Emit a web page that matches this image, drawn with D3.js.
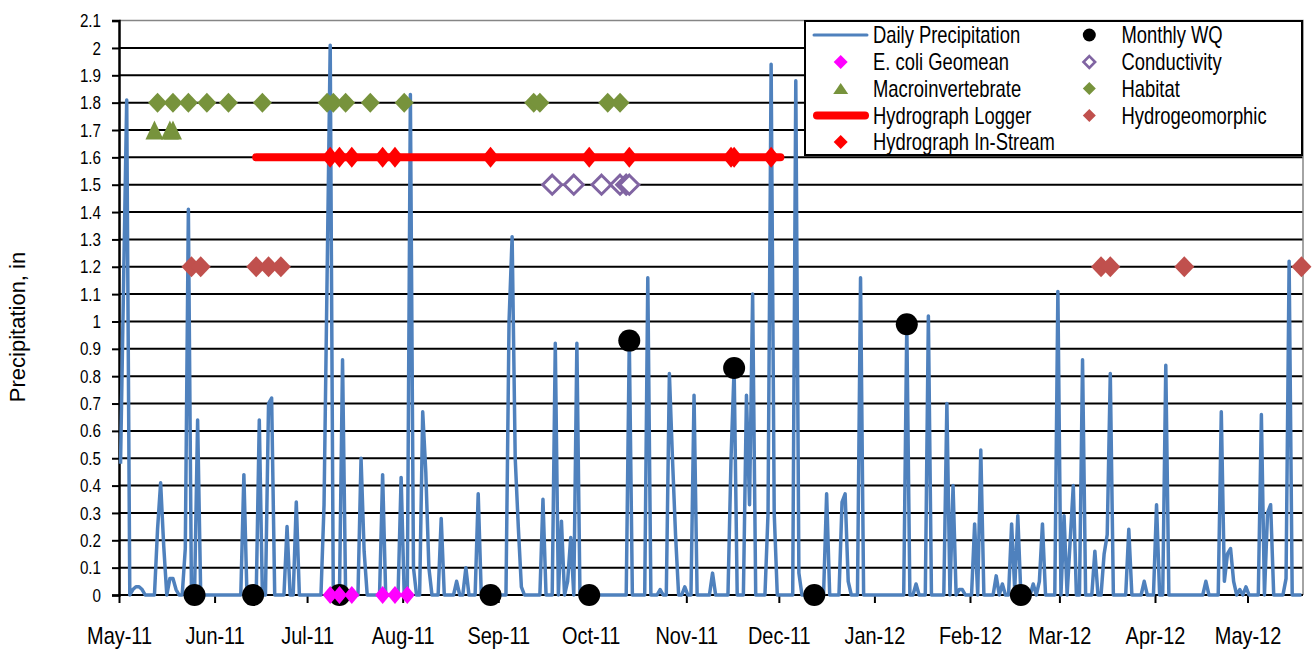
<!DOCTYPE html>
<html>
<head>
<meta charset="utf-8">
<script src="https://cdn.jsdelivr.net/npm/d3@7"></script>
<style>
  html, body { margin: 0; padding: 0; background: #fff; }
  svg { display: block; }
  text { font-family: "Liberation Sans", Arial, sans-serif; fill: #000; }
</style>
</head>
<body>
<svg id="chart" width="1313" height="650"></svg>
<script>
// ---------------- DATA ----------------
const precipStart = "2011-05-01";
// daily precipitation (in), one value per day starting May 1, 2011
const dailyPrecip = [
  0.48, 1.15, 1.81, 0, 0.02, 0.03, 0.03, 0.02, 0, 0,
  0, 0, 0.24, 0.41, 0.18, 0, 0.06, 0.06, 0.02, 0,
  0, 0.17, 1.41, 0, 0, 0.64, 0, 0, 0, 0,
  0, 0, 0, 0, 0, 0, 0, 0, 0, 0,
  0.44, 0, 0, 0, 0, 0.64, 0, 0, 0.70, 0.72,
  0, 0, 0, 0, 0.25, 0, 0, 0.34, 0, 0,
  0, 0, 0, 0, 0, 0, 0.33, 1.17, 2.01, 0,
  0, 0, 0.86, 0, 0, 0, 0, 0, 0.50, 0.16,
  0, 0, 0, 0, 0, 0.44, 0, 0, 0, 0,
  0, 0.43, 0, 0, 1.83, 0.10, 0, 0, 0.67, 0.45,
  0.10, 0, 0, 0, 0.28, 0, 0, 0, 0, 0.05,
  0, 0, 0.10, 0, 0, 0, 0.37, 0, 0, 0,
  0, 0, 0, 0, 0, 0, 1.00, 1.31, 0.50, 0.25,
  0.03, 0, 0, 0, 0, 0, 0, 0.35, 0, 0,
  0, 0.92, 0, 0.27, 0, 0.05, 0.21, 0, 0.92, 0,
  0, 0, 0, 0, 0, 0, 0, 0, 0, 0,
  0, 0, 0, 0, 0, 0.93, 0, 0, 0, 0,
  0, 1.16, 0, 0, 0, 0.02, 0, 0, 0.81, 0.50,
  0.22, 0, 0, 0.03, 0, 0, 0.73, 0, 0, 0,
  0, 0, 0.08, 0, 0, 0, 0, 0, 0.50, 0.83,
  0, 0, 0, 0.73, 0.33, 1.10, 0, 0, 0, 0,
  0.30, 1.94, 0.30, 0, 0, 0, 0, 0, 0, 1.88,
  0.08, 0, 0, 0, 0, 0, 0, 0, 0, 0.37,
  0, 0, 0, 0, 0.34, 0.37, 0.05, 0, 0, 0,
  1.16, 0, 0, 0, 0, 0, 0, 0, 0, 0,
  0, 0, 0, 0, 0, 0.99, 0, 0, 0.04, 0,
  0, 0, 1.02, 0, 0, 0, 0, 0, 0.70, 0,
  0.40, 0, 0.02, 0.02, 0, 0, 0, 0.26, 0, 0.53,
  0, 0, 0, 0, 0.07, 0, 0.04, 0, 0, 0.26,
  0.02, 0.29, 0, 0, 0, 0, 0.04, 0, 0.05, 0.26,
  0, 0, 0, 0, 1.11, 0, 0.29, 0, 0.20, 0.40,
  0, 0, 0.86, 0, 0, 0, 0.16, 0, 0, 0.15,
  0.22, 0.81, 0, 0, 0, 0, 0, 0.24, 0, 0,
  0, 0, 0.05, 0, 0, 0, 0.33, 0, 0, 0.84,
  0, 0, 0, 0, 0, 0, 0, 0, 0, 0,
  0, 0, 0.05, 0, 0, 0, 0, 0.67, 0.05, 0.15,
  0.17, 0.05, 0, 0.02, 0, 0.03, 0, 0, 0, 0,
  0.66, 0, 0.30, 0.33, 0, 0, 0, 0, 0.06, 1.22,
  0, 0, 0, 0
];

const monthlyWQDates  = ["2011-05-25","2011-06-13","2011-07-11","2011-08-29","2011-09-30","2011-10-13","2011-11-16","2011-12-12","2012-01-11","2012-02-17"];
const monthlyWQValues = [0, 0, 0, 0, 0, 0.93, 0.83, 0, 0.99, 0];

const ecoliDates  = ["2011-07-08","2011-07-11","2011-07-15","2011-07-25","2011-07-29","2011-08-02"];
const ecoliValues = [0, 0, 0, 0, 0, 0];

const macroDates  = ["2011-05-12","2011-05-17","2011-05-18"];
const macroValues = [1.7, 1.7, 1.7];

const habitatDates  = ["2011-05-13","2011-05-18","2011-05-23","2011-05-29","2011-06-05","2011-06-16","2011-07-07","2011-07-09","2011-07-13","2011-07-21","2011-08-01","2011-09-12","2011-09-14","2011-10-06","2011-10-10"];
const habitatValues = [1.8, 1.8, 1.8, 1.8, 1.8, 1.8, 1.8, 1.8, 1.8, 1.8, 1.8, 1.8, 1.8, 1.8, 1.8];

const loggerDates  = ["2011-06-14","2011-12-01"];
const loggerValues = [1.6, 1.6];

const inStreamDates  = ["2011-07-08","2011-07-11","2011-07-15","2011-07-25","2011-07-29","2011-08-29","2011-09-30","2011-10-13","2011-11-15","2011-11-16","2011-11-28"];
const inStreamValues = [1.6, 1.6, 1.6, 1.6, 1.6, 1.6, 1.6, 1.6, 1.6, 1.6, 1.6];

const conductDates  = ["2011-09-18","2011-09-25","2011-10-04","2011-10-10","2011-10-12","2011-10-13"];
const conductValues = [1.5, 1.5, 1.5, 1.5, 1.5, 1.5];

const geomorphDates  = ["2011-05-24","2011-05-27","2011-06-14","2011-06-18","2011-06-22","2012-03-14","2012-03-17","2012-04-10","2012-05-18"];
const geomorphValues = [1.2, 1.2, 1.2, 1.2, 1.2, 1.2, 1.2, 1.2, 1.2];

const yTickValues = [0,0.1,0.2,0.3,0.4,0.5,0.6,0.7,0.8,0.9,1,1.1,1.2,1.3,1.4,1.5,1.6,1.7,1.8,1.9,2,2.1];
const xDomain = ["2011-05-01","2012-05-19"];

const legendItems = [
  {name:"Daily Precipitation", type:"line"},
  {name:"Monthly WQ", type:"circle"},
  {name:"E. coli Geomean", type:"ecoli"},
  {name:"Conductivity", type:"conduct"},
  {name:"Macroinvertebrate", type:"triangle"},
  {name:"Habitat", type:"habitat"},
  {name:"Hydrograph Logger", type:"logger"},
  {name:"Hydrogeomorphic", type:"geomorph"},
  {name:"Hydrograph In-Stream", type:"instream"}
];

// ---------------- DRAW ----------------
const NARROW = 0.8;   // horizontal text compression (narrow face look)
const parse = d3.timeParse("%Y-%m-%d");
const mid = s => d3.timeHour.offset(parse(s), 12);
const svg = d3.select("#chart");

const L = 119, R = 1303, T = 20.6, B = 595;
const x = d3.scaleTime().domain(xDomain.map(parse)).range([L, R]);
const y = d3.scaleLinear().domain([0, 2.1]).range([B, T]);

const COL = {
  blue: "#4F81BD", green: "#77933C", red: "#FF0000", brown: "#C0504D",
  purple: "#8064A2", magenta: "#FF00FF"
};

// gridlines
svg.append("g").selectAll("line")
  .data(yTickValues.filter(v => v > 0 && v < 2.1))
  .join("line")
  .attr("x1", L).attr("x2", R)
  .attr("y1", d => y(d)).attr("y2", d => y(d))
  .attr("stroke", "#000").attr("stroke-width", 2);

// plot border top/right (gray)
svg.append("path")
  .attr("d", `M${L},${y(2.1)}H${R}V${B}`)
  .attr("fill", "none").attr("stroke", "#868686").attr("stroke-width", 1.5);

// y axis
const yAxis = d3.axisLeft(y).tickValues(yTickValues).tickSize(7).tickPadding(11)
  .tickFormat(d3.format("~g"));
const gy = svg.append("g").attr("transform", `translate(${L},0)`).call(yAxis);
gy.select(".domain").attr("stroke", "#000").attr("stroke-width", 2.5);
gy.selectAll(".tick line").attr("stroke", "#000").attr("stroke-width", 2);
gy.selectAll(".tick text").attr("font-size", 19).attr("font-family", null)
  .attr("x", -18 / NARROW).attr("transform", `scale(${NARROW},1)`);

// x axis
const xAxis = d3.axisBottom(x).ticks(d3.timeMonth.every(1)).tickSize(8).tickPadding(25)
  .tickFormat(d3.timeFormat("%b-%y"));
const gx = svg.append("g").attr("transform", `translate(0,${B})`).call(xAxis);
gx.select(".domain").attr("stroke", "#000").attr("stroke-width", 2).attr("d", `M${L},0H${R}`);
gx.selectAll(".tick line").attr("stroke", "#000").attr("stroke-width", 2);
gx.selectAll(".tick text").attr("font-size", 24).attr("font-family", null).attr("dy", null).attr("y", 49)
  .attr("transform", `scale(0.83,1)`);

// y title
svg.append("text")
  .attr("transform", `translate(25,327) rotate(-90)`)
  .attr("text-anchor", "middle")
  .attr("font-size", 22)
  .text("Precipitation, in");

// precipitation line
const precipData = dailyPrecip.map((v, i) => ({date: d3.timeHour.offset(d3.timeDay.offset(parse(precipStart), i), 12), value: v}));
svg.append("path")
  .datum(precipData)
  .attr("fill", "none").attr("stroke", COL.blue).attr("stroke-width", 3.5)
  .attr("stroke-linejoin", "round")
  .attr("d", d3.line().x(d => x(d.date)).y(d => y(d.value)));

// marker helpers
const diamond = (w, h) => `M0,${-h}L${w},0L0,${h}L${-w},0Z`;
const triangle = (w, h) => `M0,${-h}L${w},${h}L${-w},${h}Z`;
const pairs = (ds, vs) => ds.map((d, i) => ({date: mid(d), value: vs[i]}));

function markers(data, pathStr, fill, stroke, sw) {
  svg.append("g").selectAll("path").data(data).join("path")
    .attr("transform", d => `translate(${x(d.date)},${y(d.value)})`)
    .attr("d", pathStr)
    .attr("fill", fill).attr("stroke", stroke || "none").attr("stroke-width", sw || 0);
}

// Monthly WQ
svg.append("g").selectAll("circle").data(pairs(monthlyWQDates, monthlyWQValues)).join("circle")
  .attr("cx", d => x(d.date)).attr("cy", d => y(d.value)).attr("r", 11).attr("fill", "#000");
// E. coli
markers(pairs(ecoliDates, ecoliValues), diamond(7.5, 9), COL.magenta);
// Conductivity
markers(pairs(conductDates, conductValues), diamond(9.5, 9.5), "#fff", COL.purple, 3);
// Macroinvertebrate
markers(pairs(macroDates, macroValues), triangle(9, 9.5), COL.green);
// Habitat
markers(pairs(habitatDates, habitatValues), diamond(9.5, 10), COL.green);
// Hydrograph logger
const loggerData = pairs(loggerDates, loggerValues);
svg.append("path").datum(loggerData)
  .attr("fill", "none").attr("stroke", COL.red).attr("stroke-width", 8).attr("stroke-linecap", "round")
  .attr("d", d3.line().x(d => x(d.date)).y(d => y(d.value)));
// Hydrogeomorphic
markers(pairs(geomorphDates, geomorphValues), diamond(10, 10.5), COL.brown);
// In-stream
markers(pairs(inStreamDates, inStreamValues), diamond(8.5, 10.5), COL.red);

// ---------------- LEGEND ----------------
const lg = svg.append("g");
lg.append("rect").attr("x", 805).attr("y", 21).attr("width", 497).attr("height", 134)
  .attr("fill", "#fff").attr("stroke", "#000").attr("stroke-width", 2);
const rowY = [35, 62, 88.5, 115.5, 142];
const colSym = [840.7, 1089.3], colTxt = [873, 1121.5];
legendItems.forEach((it, i) => {
  const col = i % 2, row = Math.floor(i / 2);
  const cy = rowY[row], cx = colSym[col];
  const g = lg.append("g");
  if (it.type === "line") {
    g.append("line").attr("x1", 814).attr("x2", 867).attr("y1", cy).attr("y2", cy)
      .attr("stroke", COL.blue).attr("stroke-width", 3).attr("stroke-linecap", "round");
  } else if (it.type === "logger") {
    g.append("line").attr("x1", 817).attr("x2", 865).attr("y1", cy).attr("y2", cy)
      .attr("stroke", COL.red).attr("stroke-width", 8).attr("stroke-linecap", "round");
  } else if (it.type === "circle") {
    g.append("circle").attr("cx", cx).attr("cy", cy).attr("r", 6.5).attr("fill", "#000");
  } else {
    let d, fill = null, stroke = "none", sw = 0;
    if (it.type === "ecoli") { d = diamond(7, 7); fill = COL.magenta; }
    if (it.type === "conduct") { d = diamond(5.8, 5.8); fill = "#fff"; stroke = COL.purple; sw = 2.6; }
    if (it.type === "triangle") { d = triangle(7.5, 5.5); fill = COL.green; }
    if (it.type === "habitat") { d = diamond(6.5, 6.5); fill = COL.green; }
    if (it.type === "geomorph") { d = diamond(6.5, 6.5); fill = COL.brown; }
    if (it.type === "instream") { d = diamond(7, 7); fill = COL.red; }
    g.append("path").attr("transform", `translate(${cx},${cy})`).attr("d", d)
      .attr("fill", fill).attr("stroke", stroke).attr("stroke-width", sw);
  }
  g.append("text").attr("transform", `translate(${colTxt[col]},${cy + 8.3}) scale(${NARROW},1)`)
    .attr("font-size", 23).text(it.name);
});
</script>
</body>
</html>
